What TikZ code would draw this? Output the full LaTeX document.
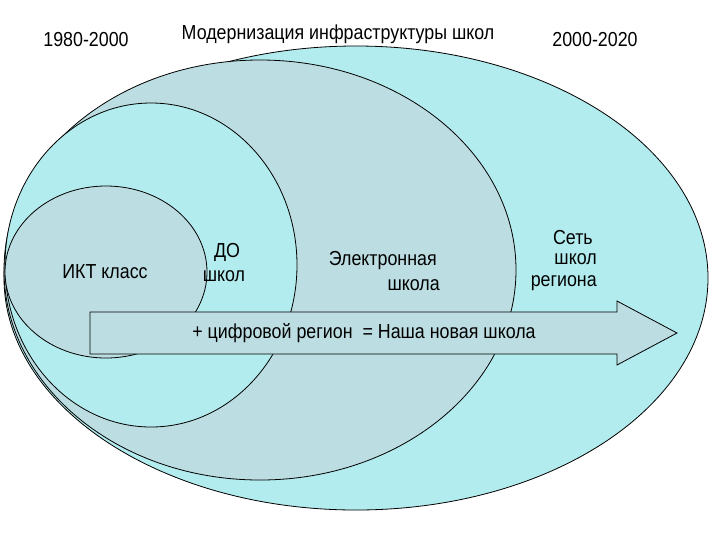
\documentclass[tikz,border=0pt]{standalone}
\usepackage{fontspec}
\setmainfont[FakeStretch=0.88]{Liberation Sans}
\definecolor{cyanfill}{RGB}{178,236,238}
\definecolor{grayfill}{RGB}{188,222,226}
\begin{document}
\begin{tikzpicture}[x=0.75pt,y=-0.75pt,
  shapeline/.style={draw=black,line width=0.6pt},
  lbl/.style={inner sep=0pt,font=\fontsize{15.2}{18}\selectfont},
  ttl/.style={inner sep=0pt,font=\fontsize{15.2}{18}\selectfont}]
\useasboundingbox (0,0) rectangle (720,540);
\fill[white] (0,0) rectangle (720,540);
% outer region
\draw[shapeline,fill=cyanfill] (356,278) ellipse [x radius=352, y radius=232];
% modernisation ellipse
\draw[shapeline,fill=grayfill] (260,270) ellipse [x radius=256, y radius=210];
% DO circle
\draw[shapeline,fill=cyanfill] (151,265) ellipse [x radius=146, y radius=162];
% ICT class circle
\draw[shapeline,fill=grayfill] (106,272) ellipse [x radius=101, y radius=86];
% arrow
\draw[shapeline,fill=grayfill] (90,312) -- (617,312) -- (617,301) -- (677,333)
  -- (617,365) -- (617,354) -- (90,354) -- cycle;
% titles
\node[ttl] (t1) at (86,40) {1980-2000};
\node[ttl] (t2) at (338,34) {Модернизация инфраструктуры школ};
\node[ttl] (t3) at (595,40) {2000-2020};
% labels
\node[lbl] (ikt) at (105,272) {ИКТ класс};
\node[lbl] (do1) at (227,252) {ДО};
\node[lbl] (do2) at (224,276) {школ};
\node[lbl,anchor=east] (el1) at (437,261) {Электронная};
\node[lbl,anchor=east] (el2) at (440,285) {школа};
\node[lbl,anchor=east] (s1) at (593,238) {Сеть};
\node[lbl,anchor=east] (s2) at (597,259) {школ};
\node[lbl,anchor=east] (s3) at (597,283) {региона};
\node[lbl] (arr) at (364,333) {+ цифровой регион\ \ = Наша новая школа};
\end{tikzpicture}
\end{document}
